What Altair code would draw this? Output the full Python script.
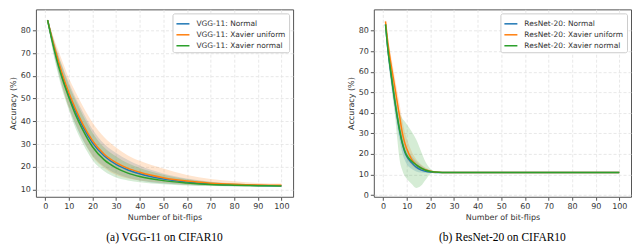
import altair as alt
import pandas as pd

SERIES = ["Normal", "Xavier uniform", "Xavier normal"]
COLORS = ["#1f77b4", "#ff7f0e", "#2ca02c"]

# ---- (a) VGG-11 ----
vgg_x = [1, 3, 5, 7, 10, 13, 16, 20, 25, 30, 35, 40, 50, 60, 70, 80, 90, 100]
vgg_normal_mean = [84.5, 75.5, 67.5, 60.5, 51.5, 44.0, 37.5, 30.5, 24.7, 21.0, 18.6, 16.9, 14.6, 13.3, 12.4, 12.0, 11.8, 11.6]
vgg_normal_up = [85.0, 78.0, 71.0, 65.0, 57.0, 50.0, 44.0, 36.5, 30.0, 26.0, 23.0, 20.5, 17.0, 14.8, 13.4, 12.6, 12.2, 12.0]
vgg_normal_lo = [84.0, 72.5, 63.5, 56.0, 46.0, 38.0, 31.5, 25.0, 20.0, 17.0, 15.2, 14.0, 12.6, 12.0, 11.6, 11.4, 11.3, 11.2]
vgg_xu_mean = [84.5, 76.0, 68.5, 61.5, 52.5, 45.0, 38.5, 31.5, 25.5, 21.8, 19.3, 17.6, 15.2, 13.7, 12.8, 12.3, 12.0, 11.9]
vgg_xu_up = [85.0, 78.5, 72.5, 67.0, 59.0, 52.5, 46.5, 39.5, 33.0, 28.5, 25.0, 22.6, 19.2, 16.4, 14.6, 13.6, 12.9, 12.6]
vgg_xu_lo = [84.0, 73.5, 64.5, 56.0, 46.0, 38.5, 32.0, 24.5, 19.5, 16.5, 14.8, 14.0, 12.9, 12.1, 11.8, 11.5, 11.4, 11.3]
vgg_xn_mean = [84.5, 75.0, 66.5, 59.5, 50.5, 42.5, 36.0, 28.8, 23.0, 19.5, 17.2, 15.7, 13.9, 12.9, 12.2, 11.9, 11.7, 11.5]
vgg_xn_up = [85.0, 77.5, 70.5, 64.5, 56.0, 49.0, 42.5, 35.0, 28.5, 24.5, 21.5, 19.5, 16.5, 14.5, 13.3, 12.6, 12.1, 11.9]
vgg_xn_lo = [84.0, 72.0, 62.5, 54.5, 45.0, 36.5, 30.0, 23.0, 18.0, 15.3, 14.0, 13.2, 12.3, 11.8, 11.5, 11.3, 11.2, 11.1]

# ---- (b) ResNet-20 ----
res_x = [1, 2, 3, 4, 5, 6, 7, 8, 9, 10, 12, 14, 16, 18, 20, 22, 25, 30, 100]
res_normal_mean = [83.0, 71.0, 61.5, 53.0, 45.0, 37.5, 31.0, 25.5, 21.5, 18.8, 15.8, 13.6, 12.3, 11.6, 11.2, 11.05, 11.0, 11.0, 11.0]
res_normal_up = [84.0, 74.0, 65.0, 57.0, 49.0, 42.0, 35.5, 30.0, 25.5, 22.5, 19.0, 16.5, 14.5, 13.0, 12.0, 11.4, 11.1, 11.0, 11.0]
res_normal_lo = [82.0, 68.0, 58.0, 49.0, 41.0, 33.0, 26.5, 21.0, 17.5, 15.0, 12.8, 11.5, 11.0, 10.8, 10.8, 10.9, 11.0, 11.0, 11.0]
res_xu_mean = [84.5, 74.0, 66.0, 59.0, 52.0, 45.0, 38.0, 31.0, 26.0, 22.5, 17.5, 14.8, 13.2, 12.2, 11.6, 11.2, 11.0, 11.0, 11.0]
res_xu_up = [85.5, 77.0, 70.0, 63.5, 57.0, 50.5, 44.0, 37.0, 31.5, 27.5, 21.5, 17.5, 15.0, 13.3, 12.2, 11.5, 11.1, 11.0, 11.0]
res_xu_lo = [83.5, 71.0, 62.0, 54.5, 47.0, 39.5, 32.0, 25.5, 21.0, 18.0, 14.5, 12.8, 11.8, 11.3, 11.1, 11.0, 11.0, 11.0, 11.0]
res_xn_mean = [83.0, 71.0, 62.0, 53.5, 45.5, 38.0, 31.5, 26.0, 22.0, 19.3, 16.6, 14.7, 13.2, 12.1, 11.5, 11.2, 11.0, 11.0, 11.0]
res_xn_up = [84.0, 75.0, 67.0, 59.5, 52.0, 44.0, 40.0, 37.5, 36.0, 34.5, 31.0, 27.0, 21.5, 16.0, 12.8, 11.5, 11.1, 11.0, 11.0]
res_xn_lo = [82.0, 67.0, 57.0, 47.5, 39.0, 27.0, 17.0, 12.5, 9.5, 8.0, 5.5, 3.5, 4.5, 7.5, 10.3, 10.9, 11.0, 11.0, 11.0]

TICKS_X = [0, 10, 20, 30, 40, 50, 60, 70, 80, 90, 100]


def build(prefix, xs, data):
    rows = []
    for name, (m, up, lo) in zip(SERIES, data):
        for i, x in enumerate(xs):
            rows.append({"x": x, "mean": m[i], "up": up[i], "lo": lo[i],
                         "series": f"{prefix}: {name}", "order": SERIES.index(name)})
    return pd.DataFrame(rows)


def panel(df, prefix, ydom, yticks, caption):
    labels = [f"{prefix}: {s}" for s in SERIES]
    leg = alt.Legend(title=None, orient="top-right", offset=4, symbolType="stroke")
    cscale = alt.Scale(domain=labels, range=COLORS)
    xenc = alt.X("x:Q", scale=alt.Scale(domain=[-3.95, 104.95], nice=False, zero=False),
                 axis=alt.Axis(values=TICKS_X, title="Number of bit-flips", labelOverlap=False))
    yscale = alt.Scale(domain=ydom, nice=False, zero=False)
    yaxis = alt.Axis(values=yticks, title="Accuracy (%)", labelOverlap=False,
                     tickCount=len(yticks))
    band = alt.Chart(df).mark_area(opacity=0.2, interpolate="monotone").encode(
        x=xenc,
        y=alt.Y("lo:Q", scale=yscale, axis=yaxis),
        y2="up:Q",
        color=alt.Color("series:N", scale=cscale, legend=leg),
        order="order:Q",
    )
    line = alt.Chart(df).mark_line(strokeWidth=1.5, interpolate="monotone").encode(
        x=xenc,
        y=alt.Y("mean:Q", scale=yscale, axis=yaxis),
        color=alt.Color("series:N", scale=cscale, legend=leg),
        order="x:Q",
    )
    return alt.layer(band, line).properties(
        width=258, height=188,
        title=alt.TitleParams(caption, orient="bottom", font="Liberation Serif",
                              fontSize=11.5, fontWeight="normal", color="#000",
                              offset=11, anchor="middle"),
    )


df_a = build("VGG-11", vgg_x, [(vgg_normal_mean, vgg_normal_up, vgg_normal_lo),
                               (vgg_xu_mean, vgg_xu_up, vgg_xu_lo),
                               (vgg_xn_mean, vgg_xn_up, vgg_xn_lo)])
df_b = build("ResNet-20", res_x, [(res_normal_mean, res_normal_up, res_normal_lo),
                                  (res_xu_mean, res_xu_up, res_xu_lo),
                                  (res_xn_mean, res_xn_up, res_xn_lo)])

left = panel(df_a, "VGG-11", [6.8, 89.2], [10, 20, 30, 40, 50, 60, 70, 80], "(a) VGG-11 on CIFAR10")
right = panel(df_b, "ResNet-20", [-0.8, 90.3], [0, 10, 20, 30, 40, 50, 60, 70, 80], "(b) ResNet-20 on CIFAR10")

chart = alt.hconcat(left, right, spacing=52).resolve_scale(color="independent").resolve_legend(
    color="independent"
).properties(
    padding={"left": 0, "top": 0, "right": 0, "bottom": 0}
).configure_view(
    stroke="#555", strokeWidth=1
).configure_axis(
    domain=False, grid=True, gridColor="#e2e2e2", gridDash=[3, 2], gridWidth=0.8,
    tickColor="#555", tickSize=3.5, labelFont="DejaVu Sans", labelFontSize=8,
    labelColor="#333", titleFont="DejaVu Sans", titleFontSize=8, titleFontWeight="normal",
    titleColor="#333", labelPadding=2, titlePadding=3, labelOverlap=False,
).configure_legend(
    symbolType="stroke", symbolSize=170, symbolStrokeWidth=1.5, symbolOpacity=1,
    labelFont="DejaVu Sans", labelFontSize=7.5, labelColor="#333", fillColor="white",
    strokeColor="#ccc", padding=3, cornerRadius=2, rowPadding=-1, labelLimit=300, labelOffset=6,
)

chart.save("out.html", embed_options={"renderer": "svg", "actions": False})
